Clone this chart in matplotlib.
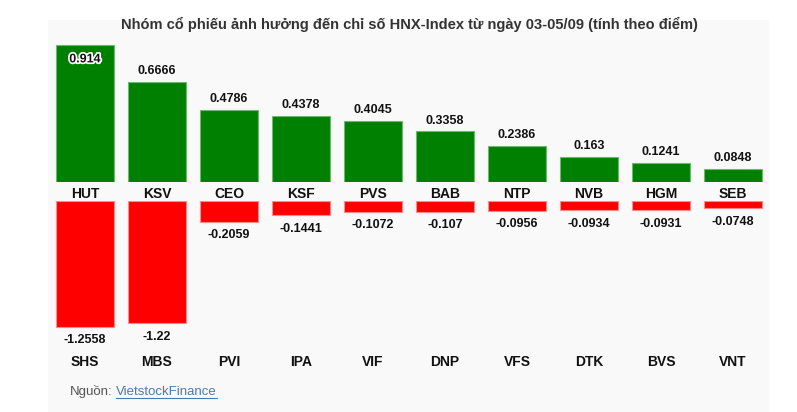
import matplotlib
matplotlib.use("Agg")
import matplotlib.pyplot as plt
import matplotlib.patheffects as pe
from matplotlib.patches import Rectangle
from matplotlib.lines import Line2D
import matplotlib.transforms as mtrans

plt.rcParams['font.family'] = ['Liberation Sans', 'DejaVu Sans']

title = "Nhóm cổ phiếu ảnh hưởng đến chỉ số HNX-Index từ ngày 03-05/09 (tính theo điểm)"
pos_names = ["HUT", "KSV", "CEO", "KSF", "PVS", "BAB", "NTP", "NVB", "HGM", "SEB"]
pos_values = [0.914, 0.6666, 0.4786, 0.4378, 0.4045, 0.3358, 0.2386, 0.163, 0.1241, 0.0848]
neg_names = ["SHS", "MBS", "PVI", "IPA", "VIF", "DNP", "VFS", "DTK", "BVS", "VNT"]
neg_values = [-1.2558, -1.22, -0.2059, -0.1441, -0.1072, -0.107, -0.0956, -0.0934, -0.0931, -0.0748]
pos_labels = ["0.914", "0.6666", "0.4786", "0.4378", "0.4045", "0.3358", "0.2386", "0.163", "0.1241", "0.0848"]
neg_labels = ["-1.2558", "-1.22", "-0.2059", "-0.1441", "-0.1072", "-0.107", "-0.0956", "-0.0934", "-0.0931", "-0.0748"]
source_prefix = "Nguồn:"
source_link = "VietstockFinance"

W, H = 797, 412
fig = plt.figure(figsize=(W / 100, H / 100), dpi=100)
fig.patch.set_facecolor('white')

def fx(px):
    return px / W

def fy(py):
    return 1 - py / H

# background panel
fig.patches.append(Rectangle((fx(48), 0), fx(769) - fx(48), fy(20), transform=fig.transFigure,
                             facecolor='#f9f9f9', edgecolor='none', zorder=-5))

x = list(range(len(pos_names)))
left_px, right_px = 48, 769
xmin = (left_px - 85) / 72
xmax = (right_px - 85) / 72

# positive axes
top_px, base_px = 30, 181.5
scale_pos = 149.3
ax1 = fig.add_axes([fx(left_px), fy(base_px), fx(right_px) - fx(left_px), (base_px - top_px) / H])
ax1.set_xlim(xmin, xmax)
ax1.set_ylim(0, (base_px - top_px) / scale_pos)
ax1.bar(x, pos_values, width=0.81, color='#008000', edgecolor='#6fb86f', linewidth=0.8)
ax1.axis('off')

# negative axes
ntop_px, nbot_px = 201, 345
scale_neg = 100.0
ax2 = fig.add_axes([fx(left_px), fy(nbot_px), fx(right_px) - fx(left_px), (nbot_px - ntop_px) / H])
ax2.set_xlim(xmin, xmax)
ax2.set_ylim(-(nbot_px - ntop_px) / scale_neg, 0)
ax2.bar(x, neg_values, width=0.81, color='#ff0000', edgecolor='#ff8a8a', linewidth=0.8)
ax2.axis('off')

# value labels
for i, (v, lab) in enumerate(zip(pos_values, pos_labels)):
    if i == 0:
        ax1.annotate(lab, (i, v), xytext=(0, -6), textcoords='offset points', ha='center', va='top',
                     fontsize=9, fontweight='bold', color='#111111',
                     path_effects=[pe.withStroke(linewidth=2.5, foreground='white')])
    else:
        ax1.annotate(lab, (i, v), xytext=(0, 3.5), textcoords='offset points', ha='center', va='bottom',
                     fontsize=9, fontweight='bold', color='#111111')
for i, (v, lab) in enumerate(zip(neg_values, neg_labels)):
    ax2.annotate(lab, (i, v), xytext=(0, -5.5), textcoords='offset points', ha='center', va='top',
                 fontsize=9, fontweight='bold', color='#111111')

# category names
tr_top = mtrans.blended_transform_factory(ax1.transData, fig.transFigure)
for i, n in enumerate(pos_names):
    fig.text(i, fy(193.5), n, transform=tr_top, ha='center', va='center',
             fontsize=10, fontweight='bold', color='#111111')
for i, n in enumerate(neg_names):
    fig.text(i, fy(362), n, transform=tr_top, ha='center', va='center',
             fontsize=10, fontweight='bold', color='#111111')

# title
fig.text(fx(409), fy(24.5), title, ha='center', va='center', fontsize=10.5, fontweight='bold', color='#333333')

# source
fig.text(fx(70), fy(392), source_prefix, ha='left', va='center', fontsize=9.5, color='#555555')
t = fig.text(fx(116), fy(392), source_link, ha='left', va='center', fontsize=9.5, color='#4a7ab0')
fig.canvas.draw()
bb = t.get_window_extent()
fig.lines.append(Line2D([bb.x0 / W, bb.x1 / W], [fy(398), fy(398)], transform=fig.transFigure,
                        color='#4a7ab0', linewidth=0.8))

fig.savefig('out.png', dpi=100, facecolor='white')
